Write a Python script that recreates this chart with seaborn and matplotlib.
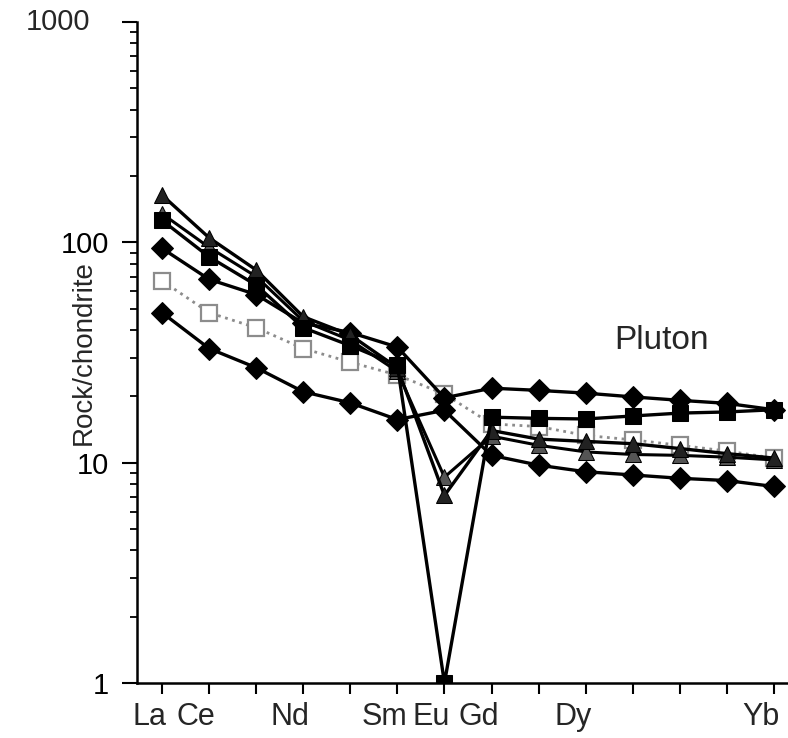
import numpy as np
import pandas as pd
import matplotlib
matplotlib.use('Agg')
import matplotlib.pyplot as plt
import matplotlib.transforms as mtransforms
from matplotlib.ticker import FixedLocator, FixedFormatter, LogLocator, NullFormatter
import seaborn as sns

# REE order on the x axis (Lu not plotted)
elements = ['La', 'Ce', 'Pr', 'Nd', 'Pm', 'Sm', 'Eu', 'Gd', 'Tb', 'Dy', 'Ho', 'Er', 'Tm', 'Yb']
tick_labels = ['La', 'Ce', '', 'Nd', '', 'Sm', 'Eu', 'Gd', '', 'Dy', '', '', '', 'Yb']
y_ticks = [1, 10, 100, 1000]
y_tick_labels = ['1', '10', '100', '1000']

# chondrite-normalised values
dotted_sq = [67, 48, 41, 33, 28.6, 25, 20.5, 15, 14.6, 13.3, 12.7, 12.0, 11.3, 10.5]
tri_top = [164, 105, 75, 46, 38, 27, 7.1, 14, 12.8, 12.5, 12.2, 11.6, 11.0, 10.5]
tri_hatch = [135, 95, 70, 44, 36, 26, 8.6, 13.2, 12.0, 11.2, 10.9, 10.8, 10.6, 10.3]
square = [126, 86, 64, 41, 34, 27.7, 1.0, 16.1, 15.9, 15.8, 16.3, 16.8, 17.0, 17.4]
diamond_hi = [94, 68, 58, 43, 39, 33.5, 19.7, 21.8, 21.3, 20.7, 19.9, 19.2, 18.6, 17.4]
diamond_lo = [48, 33, 27, 21, 18.7, 15.7, 17.3, 10.8, 9.75, 9.1, 8.8, 8.5, 8.3, 7.8]

sns.set_style('ticks')
plt.rcParams['font.family'] = ['Liberation Sans', 'DejaVu Sans']

fig = plt.figure(figsize=(7.88, 7.38), dpi=100)
ax = fig.add_axes([0.174, 0.0745, 0.826, 0.8955])

pos = np.arange(len(elements))

def draw(vals, **kw):
    df = pd.DataFrame({'pos': pos, 'value': vals})
    sns.lineplot(data=df, x='pos', y='value', ax=ax, legend=False, **kw)

# dotted grey sample first so it sits underneath
draw(dotted_sq, color='#8c8c8c', lw=2.0, linestyle=':', marker='s', markersize=12,
     markerfacecolor='white', markeredgecolor='#8c8c8c', markeredgewidth=1.6, zorder=2)
draw(diamond_lo, color='black', lw=2.4, marker='D', markersize=11,
     markerfacecolor='black', markeredgecolor='black', zorder=3)
draw(diamond_hi, color='black', lw=2.4, marker='D', markersize=11,
     markerfacecolor='black', markeredgecolor='black', zorder=3)
draw(tri_hatch, color='black', lw=2.2, marker='^', markersize=12,
     markerfacecolor='#555555', markeredgecolor='black', zorder=4)
draw(tri_top, color='black', lw=2.4, marker='^', markersize=12,
     markerfacecolor='#222222', markeredgecolor='black', zorder=4)
draw(square, color='black', lw=2.4, marker='s', markersize=12,
     markerfacecolor='black', markeredgecolor='black', zorder=5)

ax.set_yscale('log')
ax.set_ylim(1, 1000)
ax.set_xlim(-0.53, 13.3)

# the '1000' label in the original sits further left than the others
ax.yaxis.set_major_locator(FixedLocator(y_ticks))
ax.yaxis.set_major_formatter(FixedFormatter(y_tick_labels[:-1] + ['']))
ax.yaxis.set_minor_locator(LogLocator(base=10, subs=np.arange(2, 10)))
ax.yaxis.set_minor_formatter(NullFormatter())
top_tr = mtransforms.blended_transform_factory(ax.transAxes, ax.transData) + \
    mtransforms.ScaledTranslation(-0.47, 0, fig.dpi_scale_trans)
ax.text(0, y_ticks[-1], y_tick_labels[-1], transform=top_tr, ha='right', va='center',
        fontsize=21, clip_on=False)

# element names sit a little left of their ticks, as in the printed figure
ax.set_xticks(pos)
ax.set_xticklabels([])
lab_tr = mtransforms.blended_transform_factory(ax.transData, ax.transAxes) + \
    mtransforms.ScaledTranslation(-0.13, -0.19, fig.dpi_scale_trans)
for i, lab in enumerate(tick_labels):
    if lab:
        ax.text(pos[i], 0, lab, transform=lab_tr, ha='center', va='top',
                fontsize=22, clip_on=False)

for side in ['top', 'right']:
    ax.spines[side].set_visible(False)
for side in ['left', 'bottom']:
    ax.spines[side].set_linewidth(1.8)
    ax.spines[side].set_color('black')

ax.tick_params(axis='y', which='major', direction='out', length=11, width=1.5,
               labelsize=21, pad=9, colors='black')
ax.tick_params(axis='y', which='minor', direction='out', length=5, width=1.3, colors='black')
ax.tick_params(axis='x', which='major', direction='out', length=8, width=1.5, colors='black')

ax.set_xlabel('')
ax.set_ylabel('Rock/chondrite', fontsize=20)
ax.yaxis.set_label_coords(-0.062, 0.50)

ax.text(0.806, 0.519, 'Pluton', transform=ax.transAxes, fontsize=24,
        ha='center', va='center')

fig.savefig('out.png', dpi=100)
